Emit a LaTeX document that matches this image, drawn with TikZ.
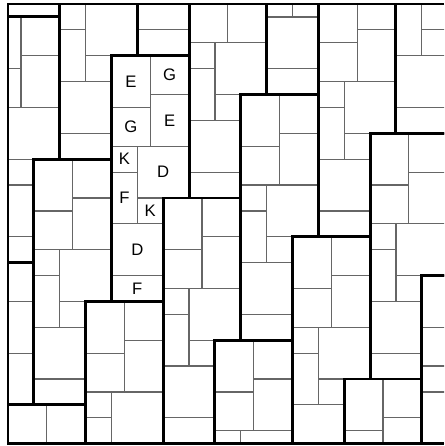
\documentclass[tikz,border=0pt]{standalone}
\usepackage{fontspec}
\setmainfont{Liberation Sans}
\usetikzlibrary{positioning}

\begin{document}
\begin{tikzpicture}[x=9.7pt, y=-9.7pt]
        \tikzstyle{tile}=[draw=black!60, line width=0.9pt]
        \tikzstyle{groupline}=[draw=black, line width=2.2pt, line join=miter]
        \tikzstyle{lbl}=[font=\fontsize{12.5}{14}\selectfont, inner sep=0pt]
        \useasboundingbox (-0.619,-0.309) rectangle (33.72,34.18);

        % one group: E G / G E, K D / F K, D, F
        \begin{scope}
        \clip (0,0) rectangle (33.72,34);
        \foreach \a/\b in {8/4, 2/12, -4/20, 14/-4, 20/-12, 12/15, 6/23, 0/31, 18/7, 24/-1,
                           30/-9, 16/26, 22/18, 28/10, 4/-7, -2/1, 10/-15, 0/-18, 26/29, 32/21} {
            \begin{scope}[shift={(\a,\b)}]
            \draw[tile] (0,0) rectangle (3,4) (3,0) rectangle (6,3)
                        (0,4) rectangle (3,7) (3,3) rectangle (6,7)
                        (0,7) rectangle (2,9) (2,7) rectangle (6,11)
                        (0,9) rectangle (2,13) (2,11) rectangle (4,13)
                        (0,13) rectangle (4,17) (0,17) rectangle (4,19);
            \end{scope}
        }
        \foreach \a/\b in {8/4, 2/12, -4/20, 14/-4, 20/-12, 12/15, 6/23, 0/31, 18/7, 24/-1,
                           30/-9, 16/26, 22/18, 28/10, 4/-7, -2/1, 10/-15, 0/-18, 26/29, 32/21} {
            \begin{scope}[shift={(\a,\b)}]
            \draw[groupline] (0,0) -- (6,0) -- (6,11) -- (4,11) -- (4,19) -- (0,19) -- cycle;
            \end{scope}
        }
        \end{scope}
        \draw[groupline] (33.72,0) -- (0,0) -- (0,34) -- (33.72,34);

        % tile sizes
        \node[lbl] (e1) at (9.5,6) {E};
        \node[lbl] (g1) at (12.5,5.5) {G};
        \node[lbl] (g2) at (9.5,9.5) {G};
        \node[lbl] (e2) at (12.5,9) {E};
        \node[lbl] (k1) at (9,12) {K};
        \node[lbl] (d1) at (12,13) {D};
        \node[lbl] (f1) at (9,15) {F};
        \node[lbl] (k2) at (11,16) {K};
        \node[lbl] (d2) at (10,19) {D};
        \node[lbl] (f2) at (10,22) {F};
    \end{tikzpicture}
\end{document}
